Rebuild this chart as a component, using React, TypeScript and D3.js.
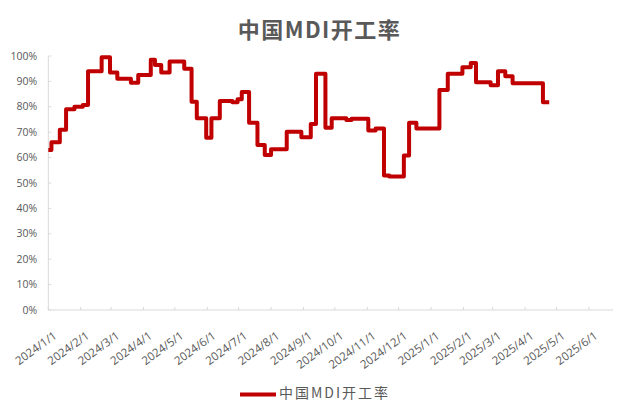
import React from "react";
import * as d3 from "d3";

const title = "中国MDI开工率";
const seriesName = "中国MDI开工率";

const changeDates = [
  "2024-01-01", "2024-01-04", "2024-01-12", "2024-01-18", "2024-01-26", "2024-02-03",
  "2024-02-08", "2024-02-21", "2024-02-29", "2024-03-07", "2024-03-20", "2024-03-27",
  "2024-04-08", "2024-04-12", "2024-04-18", "2024-04-26", "2024-05-10", "2024-05-17",
  "2024-05-22", "2024-05-31", "2024-06-05", "2024-06-13", "2024-06-25", "2024-06-30",
  "2024-07-04", "2024-07-11", "2024-07-19", "2024-07-26", "2024-08-01", "2024-08-16",
  "2024-08-30", "2024-09-08", "2024-09-13", "2024-09-22", "2024-09-28", "2024-10-12",
  "2024-10-17", "2024-11-02", "2024-11-09", "2024-11-17", "2024-11-22", "2024-12-06",
  "2024-12-11", "2024-12-18", "2025-01-09", "2025-01-17", "2025-01-31", "2025-02-08",
  "2025-02-13", "2025-02-27", "2025-03-06", "2025-03-13", "2025-03-20", "2025-04-18",
  "2025-04-24",
];
const rates = [
  63, 66, 71, 79, 80, 80.7,
  94, 99.5, 93.5, 91, 89.5, 92.5,
  98.5, 96.5, 93.5, 97.8, 95, 82,
  75.5, 67.8, 75.5, 82.3, 81.8, 83,
  85.8, 73.7, 65, 61, 63.3, 70.2,
  68, 73.2, 93, 71.8, 75.5, 74.8,
  75.3, 70.7, 71.5, 53, 52.6, 60.8,
  73.7, 71.5, 86.6, 93, 95.6, 97.2,
  89.7, 88.5, 94, 92, 89.3, 81.8,
  81.8,
];
const yTicks = [0, 10, 20, 30, 40, 50, 60, 70, 80, 90, 100];
const xTickLabels = [
  "2024/1/1", "2024/2/1", "2024/3/1", "2024/4/1", "2024/5/1", "2024/6/1",
  "2024/7/1", "2024/8/1", "2024/9/1", "2024/10/1", "2024/11/1", "2024/12/1",
  "2025/1/1", "2025/2/1", "2025/3/1", "2025/4/1", "2025/5/1", "2025/6/1",
];
const axisStart = "2024-01-01";
const axisEnd = "2025-06-24";

const W = 619;
const H = 401;
const left = 48.3;
const right = 613;
const top = 56;
const bottom = 310;

const parse = d3.timeParse("%Y-%m-%d");
const parseLabel = d3.timeParse("%Y/%m/%d");

export default function App() {
  React.useEffect(() => {
    document.body.style.margin = "0";
  }, []);
  const x = d3.scaleTime().domain([parse(axisStart)!, parse(axisEnd)!]).range([left, right]);
  const y = d3.scaleLinear().domain([0, 100]).range([bottom, top]);
  const pts = changeDates.map((d, i) => ({ d: parse(d)!, v: rates[i] }));
  const line = d3
    .line<{ d: Date; v: number }>()
    .x((p) => x(p.d))
    .y((p) => y(p.v))
    .curve(d3.curveStepAfter);
  const axisColor = "#D9D9D9";
  const textColor = "#595959";
  const numFont = "'Open Sans', 'Noto Sans CJK SC', sans-serif";
  const cjkFont = "'Noto Sans CJK SC', 'Open Sans', sans-serif";
  return (
    <svg width={W} height={H} style={{ position: "absolute", left: 0, top: 0, background: "#fff" }}>
      <text x={W / 2 + 10} y={38} textAnchor="middle" fontFamily={cjkFont} fontWeight="bold" fontSize={22} letterSpacing={1.5} fill={textColor}>
        {title}
      </text>
      {/* y axis */}
      <line x1={left} x2={left} y1={top} y2={bottom} stroke={axisColor} strokeWidth={1} />
      {yTicks.map((t) => (
        <g key={t}>
          <line x1={left} x2={left + 3} y1={y(t)} y2={y(t)} stroke={axisColor} />
          <text x={left - 11} y={y(t)} dy="0.35em" textAnchor="end" fontFamily={numFont} fontSize={10.5} fill={textColor}>
            {t + "%"}
          </text>
        </g>
      ))}
      {/* x axis */}
      <line x1={left} x2={right} y1={bottom} y2={bottom} stroke={axisColor} strokeWidth={1} />
      {xTickLabels.map((lab) => {
        const tx = x(parseLabel(lab)!);
        return (
          <g key={lab}>
            <line x1={tx} x2={tx} y1={bottom} y2={bottom - 3} stroke={axisColor} />
            <text
              transform={`translate(${tx + 7},${bottom + 24}) rotate(-36)`}
              dy="0.35em"
              textAnchor="end"
              fontFamily={numFont}
              fontSize={11.5}
              fill={textColor}
            >
              {lab}
            </text>
          </g>
        );
      })}
      <path d={line(pts) || ""} fill="none" stroke="#C00000" strokeWidth={4} strokeLinejoin="round" />
      {/* legend */}
      <line x1={240} x2={276} y1={394.5} y2={394.5} stroke="#C00000" strokeWidth={4} />
      <text x={279} y={392.5} dy="0.36em" fontFamily={cjkFont} fontSize={14} letterSpacing={2} fill={textColor}>
        {seriesName}
      </text>
    </svg>
  );
}
